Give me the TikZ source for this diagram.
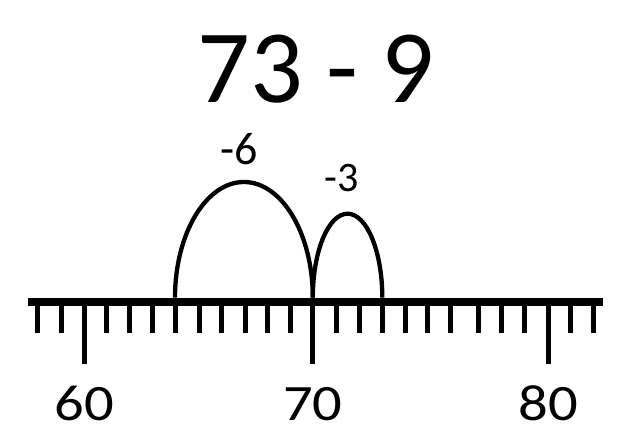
\documentclass[tikz,border=0pt]{standalone}
\usepackage{fontspec}
\setmainfont{Carlito}
\begin{document}
\begin{tikzpicture}[x=1pt,y=1pt,
  barline/.style={line width=8pt},
  tickline/.style={line width=5pt},
  jump/.style={line width=4.3pt},
  titletext/.style={anchor=base,inner sep=0pt,font=\fontsize{104}{110}\selectfont},
  jumptext/.style={anchor=base,inner sep=0pt},
  numtext/.style={anchor=base,inner sep=0pt,xscale=1.15,font=\fontsize{51}{56}\selectfont}]
\useasboundingbox (0,0) rectangle (640,439);
\fill[white] (0,0) rectangle (640,439);
\node[titletext] (title) at (316,336) {73 - 9};
\coordinate (L) at (27.7,137.3);
\coordinate (R) at (602.7,137.3);
\draw[barline] (L) -- (R);
\foreach \n/\x in {58/37.7,59/61.7,60/84.3,61/106.7,62/129.3,63/152.3,64/175,65/199,66/221.7,67/245,68/267.3,69/290,70/312.8,71/336.7,72/359.3,73/382.3,74/405,75/427.7,76/450.7,77/478.3,78/501,79/524,80/548.3,81/570.7,82/593.3}{
  \coordinate (t\n) at (\x,141.3);
  \coordinate (b\n) at (\x,137.3);
  \coordinate (s\n) at (\x,106.3);
  \coordinate (g\n) at (\x,75);
  \draw[tickline] (b\n) -- (s\n);
}
\draw[tickline] (b60) -- (g60);
\draw[tickline] (b70) -- (g70);
\draw[tickline] (b80) -- (g80);
\draw[jump] (t64) arc[start angle=180,end angle=0,x radius=68.9,y radius=115.7];
\draw[jump] (t70) arc[start angle=180,end angle=0,x radius=34.75,y radius=84];
\node[jumptext,font=\fontsize{46}{50}\selectfont] (j1) at (239.5,274.7) {-6};
\node[jumptext,font=\fontsize{42}{46}\selectfont] (j2) at (341.3,247.3) {-3};
\node[numtext] (n60) at (84.3,18) {60};
\node[numtext] (n70) at (312.8,18) {70};
\node[numtext] (n80) at (548.3,18) {80};
\end{tikzpicture}
\end{document}
